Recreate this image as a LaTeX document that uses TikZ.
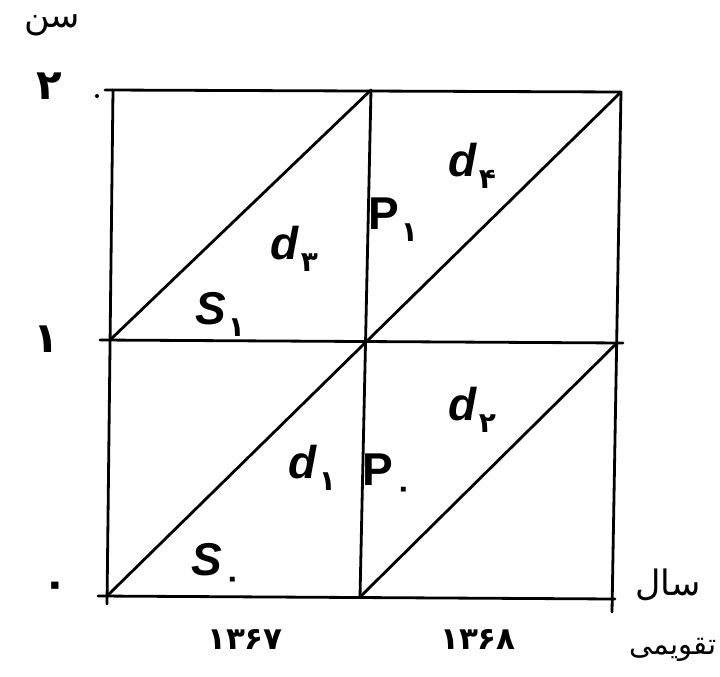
\documentclass[tikz,border=0pt]{standalone}
\usepackage{fontspec}
\setmainfont{Liberation Sans}
\newfontfamily\persianfont[Script=Arabic]{DejaVu Sans}
\newfontfamily\digitfont{DejaVu Sans}
\TeXXeTstate=1
\newcommand\lexsub[1]{\kern2pt\raisebox{-12pt}{\digitfont\bfseries\fontsize{28}{28}\selectfont #1}}
\begin{document}
\begin{tikzpicture}[x=1pt,y=-1pt,
  ln/.style={line width=2.8pt, line cap=round},
  lbl/.style={inner sep=0pt, font=\bfseries\fontsize{46}{48}\selectfont},
  ax/.style={inner sep=0pt, font=\digitfont\bfseries\fontsize{42}{44}\selectfont},
  yr/.style={inner sep=0pt, font=\digitfont\bfseries\fontsize{31}{33}\selectfont},
  word/.style={inner sep=0pt, font=\persianfont\fontsize{29}{31}\selectfont},
  bigword/.style={word, font=\persianfont\fontsize{35}{37}\selectfont}]
\useasboundingbox (0,0) rectangle (720,677);
% grid corners
\coordinate (A0) at (107,596);
\coordinate (A1) at (110,340);
\coordinate (A2) at (113,90);
\coordinate (B0) at (360,597);
\coordinate (B1) at (367,341);
\coordinate (B2) at (371,90);
\coordinate (C0) at (613,599);
\coordinate (C1) at (617,343);
\coordinate (C2) at (621,92);
\coordinate (TL) at (105,90);
\coordinate (ML) at (100,340);
\coordinate (BL) at (98,596);
\coordinate (MR) at (623,343);
\coordinate (BR) at (615,599);
\coordinate (LB) at (107,604);
\coordinate (RB) at (612,612);
% lines
\draw[ln] (TL) -- (C2);
\draw[ln] (ML) -- (MR);
\draw[ln] (BL) -- (BR);
\draw[ln] (A2) -- (LB);
\draw[ln] (B2) -- (B0);
\draw[ln] (C2) -- (RB);
\draw[ln] (A0) -- (B1);
\draw[ln] (A1) -- (B2);
\draw[ln] (B1) -- (C2);
\draw[ln] (B0) -- (C1);
\node[circle, fill, inner sep=0pt, minimum size=4pt] (dot) at (97,96) {};
% cell labels
\node[lbl] (d3) at (294,249) {\textit{d}\lexsub{۳}};
\node[lbl] (s1) at (220,314) {\textit{S}\lexsub{۱}};
\node[lbl] (p1) at (393,220) {P\lexsub{۱}};
\node[lbl] (d4) at (472,166) {\textit{d}\lexsub{۴}};
\node[lbl] (d1) at (312,468) {\textit{d}\lexsub{۱}};
\node[lbl] (p0) at (387,476) {P\lexsub{۰}};
\node[lbl] (d2) at (472,410) {\textit{d}\lexsub{۲}};
\node[lbl] (s0) at (216,565) {\textit{S}\lexsub{۰}};
% axis labels
\node[ax] (y2) at (49,86) {۲};
\node[ax] (y1) at (46,339) {۱};
\node[ax] (y0) at (55,590) {۰};
\node[yr] (t67) at (245,639) {۱۳۶۷};
\node[yr] (t68) at (478,639) {۱۳۶۸};
\node[bigword] (sen) at (52,25) {\beginR سن\endR};
\node[bigword] (sal) at (668,585) {\beginR سال\endR};
\node[word] (taq) at (673,650) {\beginR تقویمی\endR};
\end{tikzpicture}
\end{document}
